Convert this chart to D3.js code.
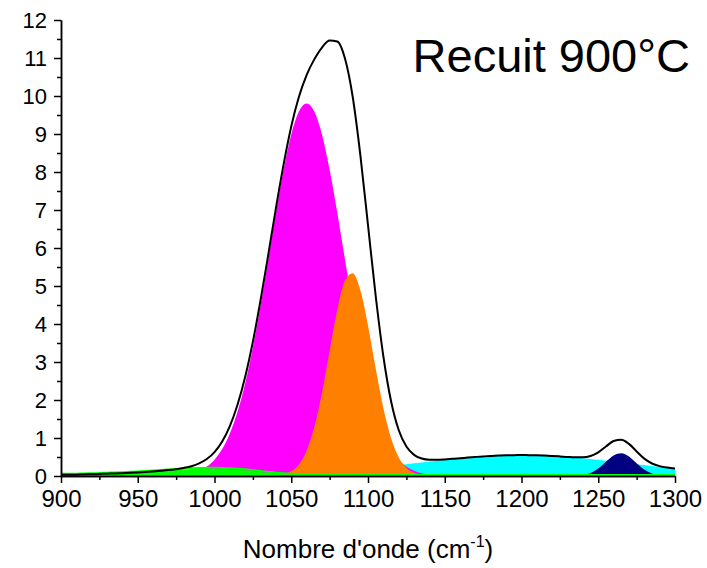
<!DOCTYPE html>
<html lang="fr">

<head>
  <meta charset="utf-8">
  <title>Recuit 900°C</title>
  <script src="https://d3js.org/d3.v7.min.js"></script>
  <style>
    body {
      margin: 0;
      background: #fff;
    }

    text {
      font-family: "Liberation Sans", Arial, sans-serif;
      fill: #000;
    }

    .axis path,
    .axis line {
      stroke: #000;
      stroke-width: 1.5px;
    }
  </style>
</head>

<body>
  <svg width="707" height="568"></svg>

  <script>
    // wavenumber grid (cm-1), 5 cm-1 step
    var wavenumber = [900, 905, 910, 915, 920, 925, 930, 935, 940, 945, 950, 955, 960, 965, 970, 975, 980, 985, 990, 995,
      1000, 1005, 1010, 1015, 1020, 1025, 1030, 1035, 1040, 1045, 1050, 1055, 1060, 1065, 1070, 1075, 1080, 1085, 1090, 1095,
      1100, 1105, 1110, 1115, 1120, 1125, 1130, 1135, 1140, 1145, 1150, 1155, 1160, 1165, 1170, 1175, 1180, 1185, 1190, 1195,
      1200, 1205, 1210, 1215, 1220, 1225, 1230, 1235, 1240, 1245, 1250, 1255, 1260, 1265, 1270, 1275, 1280, 1285, 1290, 1295, 1300];

    // fitted components
    var peakGreen = [0.03, 0.032, 0.035, 0.04, 0.045, 0.052, 0.06, 0.067, 0.075, 0.085, 0.095, 0.107, 0.12, 0.132, 0.145, 0.158, 0.17, 0.178, 0.185, 0.188,
      0.19, 0.187, 0.18, 0.167, 0.15, 0.128, 0.105, 0.082, 0.06, 0.043, 0.03, 0.02, 0.012, 0.007, 0.004, 0.002, 0, 0, 0, 0,
      0, 0, 0, 0, 0, 0, 0, 0, 0, 0, 0, 0, 0, 0, 0, 0, 0, 0, 0, 0,
      0, 0, 0, 0, 0, 0, 0, 0, 0, 0, 0, 0, 0, 0, 0, 0, 0, 0, 0, 0, 0];

    var peakMagenta = [0, 0, 0, 0, 0, 0, 0, 0, 0, 0, 0, 0, 0, 0.004, 0.009, 0.019, 0.038, 0.074, 0.14, 0.25,
      0.43, 0.71, 1.12, 1.69, 2.44, 3.38, 4.49, 5.70, 6.93, 8.06, 8.99, 9.59, 9.80, 9.59, 8.99, 8.06, 6.93, 5.70, 4.49, 3.38,
      2.44, 1.69, 1.12, 0.71, 0.43, 0.25, 0.14, 0.074, 0.038, 0.019, 0.009, 0.004, 0, 0, 0, 0, 0, 0, 0, 0,
      0, 0, 0, 0, 0, 0, 0, 0, 0, 0, 0, 0, 0, 0, 0, 0, 0, 0, 0, 0, 0];

    var peakOrange = [0, 0, 0, 0, 0, 0, 0, 0, 0, 0, 0, 0, 0, 0, 0, 0, 0, 0, 0, 0,
      0, 0, 0, 0, 0, 0, 0, 0, 0.014, 0.044, 0.123, 0.304, 0.664, 1.281, 2.184, 3.29, 4.376, 5.142, 5.337, 4.893,
      3.963, 2.834, 1.791, 1.0, 0.493, 0.215, 0.083, 0.028, 0.008, 0.002, 0, 0, 0, 0, 0, 0, 0, 0, 0, 0,
      0, 0, 0, 0, 0, 0, 0, 0, 0, 0, 0, 0, 0, 0, 0, 0, 0, 0, 0, 0, 0];

    var peakCyan = [0, 0, 0, 0, 0, 0, 0, 0, 0, 0, 0, 0, 0.0015, 0.002, 0.0025, 0.0031, 0.0039, 0.0049, 0.0061, 0.0076,
      0.0093, 0.0113, 0.0138, 0.0168, 0.0202, 0.0242, 0.0288, 0.0342, 0.0404, 0.0474, 0.0553, 0.0643, 0.0744, 0.0857, 0.098, 0.1116, 0.1265, 0.1426, 0.16, 0.1786,
      0.1983, 0.219, 0.2407, 0.2632, 0.2863, 0.3099, 0.3336, 0.3573, 0.3808, 0.4038, 0.426, 0.4472, 0.4671, 0.4854, 0.5017, 0.516, 0.528, 0.5375, 0.5444, 0.5486,
      0.55, 0.5486, 0.5444, 0.5375, 0.528, 0.516, 0.5017, 0.4854, 0.4671, 0.4472, 0.426, 0.4038, 0.3808, 0.3573, 0.3336, 0.3099, 0.2863, 0.2632, 0.2407, 0.219, 0.1983];

    var peakNavy = [0, 0, 0, 0, 0, 0, 0, 0, 0, 0, 0, 0, 0, 0, 0, 0, 0, 0, 0, 0,
      0, 0, 0, 0, 0, 0, 0, 0, 0, 0, 0, 0, 0, 0, 0, 0, 0, 0, 0, 0,
      0, 0, 0, 0, 0, 0, 0, 0, 0, 0, 0, 0, 0, 0, 0, 0, 0, 0, 0, 0,
      0, 0, 0, 0, 0, 0, 0, 0.006, 0.025, 0.081, 0.198, 0.373, 0.539, 0.599, 0.512, 0.336, 0.17, 0.066, 0.02, 0.004, 0.001];

    var xTicks = [900, 950, 1000, 1050, 1100, 1150, 1200, 1250, 1300];
    var yTicks = [0, 1, 2, 3, 4, 5, 6, 7, 8, 9, 10, 11, 12];

    var svg = d3.select("svg");

    var x = d3.scaleLinear().domain([900, 1300]).range([61, 675]);
    var y = d3.scaleLinear().domain([0, 12]).range([476, 20]);

    function toPoints(values) {
      return values.map(function (v, i) { return [wavenumber[i], v]; });
    }

    // envelope = sum of the components
    var envelope = wavenumber.map(function (w, i) {
      return peakGreen[i] + peakMagenta[i] + peakOrange[i] + peakCyan[i] + peakNavy[i];
    });

    var area = d3.area()
      .x(function (d) { return x(d[0]); })
      .y0(y(0))
      .y1(function (d) { return y(d[1]); })
      .curve(d3.curveMonotoneX);

    var line = d3.line()
      .x(function (d) { return x(d[0]); })
      .y(function (d) { return y(d[1]); })
      .curve(d3.curveMonotoneX);

    // draw order as in the original figure
    var layers = [
      { values: peakCyan, color: "#00ffff" },
      { values: peakMagenta, color: "#ff00ff" },
      { values: peakOrange, color: "#ff8000" },
      { values: peakNavy, color: "#000080" },
      { values: peakGreen, color: "#00ff00" }
    ];

    svg.append("g")
      .selectAll("path")
      .data(layers)
      .enter().append("path")
      .attr("d", function (d) { return area(toPoints(d.values)); })
      .attr("fill", function (d) { return d.color; });

    // green baseline
    svg.append("path")
      .attr("d", line(toPoints(peakGreen)))
      .attr("fill", "none")
      .attr("stroke", "#00ff00")
      .attr("stroke-width", 2)
      .attr("transform", "translate(0,-1)");

    svg.append("path")
      .attr("d", line(toPoints(envelope)))
      .attr("fill", "none")
      .attr("stroke", "#000")
      .attr("stroke-width", 2);

    // axes
    var xMinor = d3.range(925, 1300, 50);
    var yMinor = d3.range(0.5, 12, 1);

    svg.append("g")
      .attr("class", "axis")
      .attr("transform", "translate(0," + y(0) + ")")
      .call(d3.axisBottom(x).tickValues(xMinor).tickSize(4).tickSizeOuter(0).tickFormat(""));

    svg.append("g")
      .attr("class", "axis")
      .attr("transform", "translate(" + x(900) + ",0)")
      .call(d3.axisLeft(y).tickValues(yMinor).tickSize(4).tickSizeOuter(0).tickFormat(""));

    var xAxis = svg.append("g")
      .attr("class", "axis")
      .attr("transform", "translate(0," + y(0) + ")")
      .call(d3.axisBottom(x).tickValues(xTicks).tickSize(7).tickSizeOuter(0).tickPadding(7)
        .tickFormat(d3.format("d")));

    var yAxis = svg.append("g")
      .attr("class", "axis")
      .attr("transform", "translate(" + x(900) + ",0)")
      .call(d3.axisLeft(y).tickValues(yTicks).tickSize(7).tickSizeOuter(0).tickPadding(7));

    xAxis.selectAll("text").style("font-size", "24px").attr("fill", "#000");
    yAxis.selectAll("text").style("font-size", "22px").attr("fill", "#000");

    // axis title
    var title = svg.append("text")
      .attr("x", 368)
      .attr("y", 558)
      .attr("text-anchor", "middle")
      .style("font-size", "26px");
    title.append("tspan").text("Nombre d'onde (cm");
    title.append("tspan").attr("dy", -11).style("font-size", "16px").text("-1");
    title.append("tspan").attr("dy", 11).text(")");

    svg.append("text")
      .attr("x", 690)
      .attr("y", 72)
      .attr("text-anchor", "end")
      .style("font-size", "47px")
      .text("Recuit 900°C");
  </script>
</body>

</html>
